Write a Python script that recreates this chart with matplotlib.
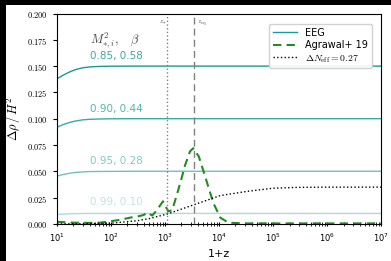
import numpy as np
import matplotlib
matplotlib.use("Agg")
import matplotlib.pyplot as plt
from matplotlib.patches import Rectangle
from matplotlib.ticker import FuncFormatter, LogLocator, LogFormatterMathtext

plt.rcParams["mathtext.fontset"] = "cm"

# EEG curves (1+z, delta rho / H^2)
eeg_z = [10, 13, 17, 22, 30, 40, 60, 100, 300, 1e3, 1e7]
eeg_labels = ["0.85, 0.58", "0.90, 0.44", "0.95, 0.28", "0.99, 0.10"]
eeg_y = [
    [0.1380, 0.1415, 0.1445, 0.1468, 0.1485, 0.1493, 0.1498, 0.1500, 0.1501, 0.1501, 0.1501],
    [0.0920, 0.0945, 0.0965, 0.0979, 0.0990, 0.0995, 0.0998, 0.1000, 0.1001, 0.1001, 0.1001],
    [0.0455, 0.0470, 0.0482, 0.0490, 0.0495, 0.0498, 0.0499, 0.0500, 0.0501, 0.0501, 0.0501],
    [0.0090, 0.0093, 0.0096, 0.0098, 0.0099, 0.0100, 0.0100, 0.0100, 0.0100, 0.0100, 0.0100],
]
eeg_label_y = [0.157, 0.107, 0.057, 0.018]

# Agrawal+ 19
agr_z = [10, 20, 40, 63, 95, 150, 224, 302, 400, 464, 575, 700, 910, 1140, 1350,
         1740, 2050, 2340, 2880, 3300, 4200, 5500, 7770, 10500, 14700, 3e4, 1e5, 1e6, 1e7]
agr_y = [0.0020, 0.0012, 0.0010, 0.0012, 0.0025, 0.0040, 0.0060, 0.0070, 0.0085,
         0.0110, 0.0080, 0.0130, 0.0215, 0.0120, 0.0130, 0.0320, 0.0450, 0.0560,
         0.0690, 0.0720, 0.0640, 0.0450, 0.0200, 0.0060, 0.0012, 0.0005, 0.0005,
         0.0005, 0.0005]

# Delta N_eff = 0.27
neff_z = [10, 30, 100, 300, 500, 1100, 3300, 10500, 33000, 1e5, 3e5, 1e6, 1e7]
neff_y = [0.0000, 0.0002, 0.0008, 0.0030, 0.0050, 0.0095, 0.0180, 0.0270, 0.0310,
          0.0340, 0.0348, 0.0350, 0.0350]

z_star = 1090
z_eq = 3400

line_colors = ["#1b9a94", "#3aaaa4", "#6cc2bd", "#aadcd9"]
text_colors = ["#3aaaa4", "#52b4af", "#7fcbc6", "#bfe4e2"]

W, H = 391, 261
fig = plt.figure(figsize=(W / 100 + 0.004, H / 100 + 0.004), dpi=100)
fig.patch.set_facecolor("white")
# dark bands along the top and left edge
fig.patches.append(Rectangle((0, 0), 6 / W, 1, transform=fig.transFigure,
                             facecolor="black", edgecolor="none"))
fig.patches.append(Rectangle((0, 1 - 5 / H), 1, 5 / H, transform=fig.transFigure,
                             facecolor="black", edgecolor="none"))
ax = fig.add_axes([57 / W, 37 / H, 324 / W, 210 / H])

for i in range(4):
    ax.plot(eeg_z, eeg_y[i], color=line_colors[i], lw=1.0,
            label="EEG" if i == 0 else None)
    ax.text(41, eeg_label_y[i], eeg_labels[i], color=text_colors[i], fontsize=7.5)

ax.plot(agr_z, agr_y, color="#228b22", ls=(0, (4, 2.5)), lw=1.5, label="Agrawal+ 19")
ax.plot(neff_z, neff_y, color="black", ls=":", lw=1.0,
        label=r"$\Delta N_{\rm eff} = 0.27$")

ax.axvline(z_star, color="gray", ls=":", lw=1.0)
ax.axvline(z_eq, color="gray", ls=(0, (5, 3)), lw=1.0)
ax.text(780, 0.191, r"$z_{*}$", fontsize=5, color="#444444")
ax.text(3900, 0.191, r"$z_{\rm eq}$", fontsize=5, color="#444444")
ax.text(40, 0.172, r"$M^2_{*,i},\quad \beta$", fontsize=9, color="#444444")

ax.set_xscale("log")
ax.set_xlim(10, 1e7)
ax.set_ylim(0, 0.2)
ax.set_yticks(np.arange(0, 0.201, 0.025))
ax.yaxis.set_major_formatter(FuncFormatter(lambda v, p: r"$%.3f$" % v))
ax.xaxis.set_major_locator(LogLocator(base=10, numticks=10))
ax.xaxis.set_major_formatter(LogFormatterMathtext())
ax.xaxis.set_minor_locator(LogLocator(base=10, subs=np.arange(2, 10), numticks=20))
ax.tick_params(axis="both", labelsize=6, length=3, width=0.8)
ax.tick_params(axis="x", which="both", direction="inout")
ax.tick_params(axis="x", which="minor", length=2.5)
ax.set_xlabel("1+z", fontsize=8, labelpad=4)
ax.set_ylabel(r"$\Delta\rho\,/\,H^2$", fontsize=9, labelpad=3)

ax.legend(loc="upper right", fontsize=7, handlelength=2.5, borderpad=0.4,
          labelspacing=0.25, handletextpad=0.8, framealpha=0.9,
          bbox_to_anchor=(0.985, 0.975))

fig.savefig("out.png", dpi=100, facecolor=fig.get_facecolor())
